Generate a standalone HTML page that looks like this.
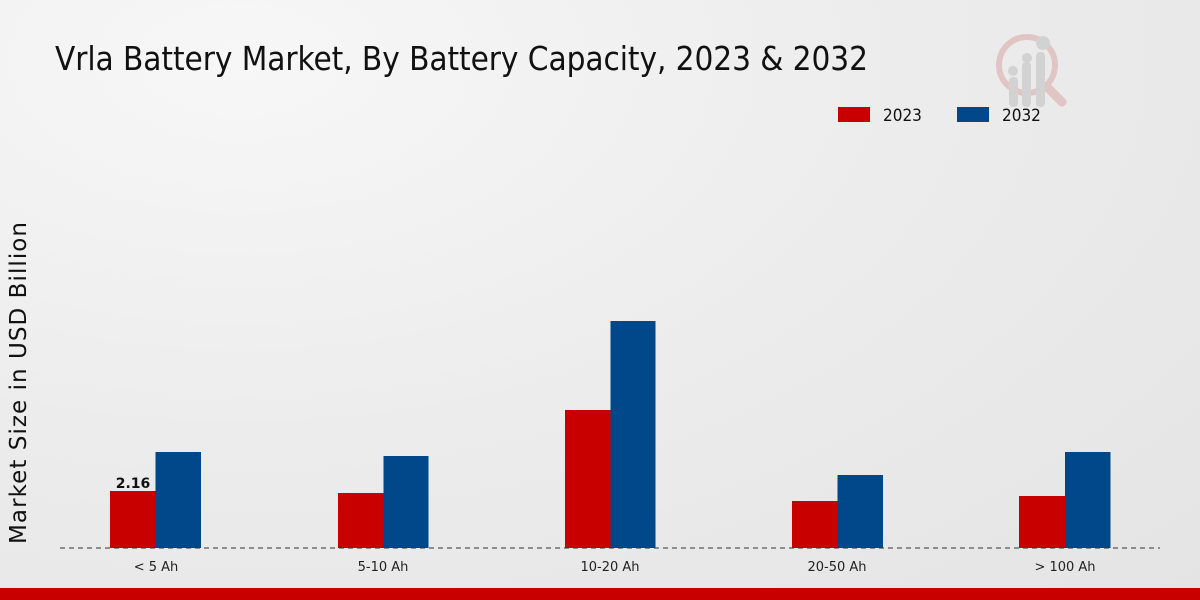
<!DOCTYPE html>
<html><head><meta charset="utf-8"><style>
html,body{margin:0;padding:0}
body{width:1200px;height:600px;overflow:hidden;background:radial-gradient(ellipse at 20% 10%,#f7f7f7 0%,#ececec 50%,#e4e4e4 100%);font-family:"DejaVu Sans","Liberation Sans",sans-serif;position:relative}
</style></head><body>
<svg width="1200" height="600" style="position:absolute;left:0;top:0">
<text x="55" y="70" font-family="DejaVu Sans Condensed, DejaVu Sans, sans-serif" font-stretch="condensed" font-size="33" fill="#111" textLength="813">Vrla Battery Market, By Battery Capacity, 2023 &amp; 2032</text>
<g opacity="0.5">
<circle cx="1027" cy="65" r="28" fill="none" stroke="#d9a0a0" stroke-width="6"/>
<line x1="1047" y1="87" x2="1062" y2="102" stroke="#d9a0a0" stroke-width="9" stroke-linecap="round"/>
<rect x="1009" y="77" width="9" height="30" rx="4" fill="#bbb"/>
<rect x="1022" y="62" width="9" height="45" rx="4" fill="#bbb"/>
<rect x="1036" y="52" width="9" height="55" rx="4" fill="#bbb"/>
<circle cx="1013" cy="71" r="5" fill="#bbb"/><circle cx="1027" cy="58" r="5" fill="#bbb"/><circle cx="1043" cy="43" r="7" fill="#bbb"/>
</g>
<rect x="838" y="107" width="32" height="15" fill="#c80000"/>
<text x="883" y="121" font-size="17" font-family="DejaVu Sans Condensed, DejaVu Sans, sans-serif" fill="#111">2023</text>
<rect x="957" y="107" width="32" height="15" fill="#00488a"/>
<text x="1002" y="121" font-size="17" font-family="DejaVu Sans Condensed, DejaVu Sans, sans-serif" fill="#111">2032</text>
<text transform="translate(26,383) rotate(-90)" text-anchor="middle" font-size="23" fill="#111" textLength="322">Market Size in USD Billion</text>
<g>
<rect x="110" y="491" width="45.5" height="57" fill="#c80000"/><rect x="155.5" y="452" width="45.5" height="96" fill="#00488a"/>
<rect x="338" y="493" width="45.5" height="55" fill="#c80000"/><rect x="383.5" y="456" width="45" height="92" fill="#00488a"/>
<rect x="565" y="410" width="45.5" height="138" fill="#c80000"/><rect x="610.5" y="321" width="45" height="227" fill="#00488a"/>
<rect x="792" y="501" width="45.5" height="47" fill="#c80000"/><rect x="837.5" y="475" width="45.5" height="73" fill="#00488a"/>
<rect x="1019" y="496" width="46" height="52" fill="#c80000"/><rect x="1065" y="452" width="45.5" height="96" fill="#00488a"/>
</g>
<text x="133" y="488" text-anchor="middle" font-size="14" font-weight="bold" fill="#111">2.16</text>
<line x1="60" y1="548" x2="1160" y2="548" stroke="#333" stroke-width="1" stroke-dasharray="5,4"/>
<g font-size="13" fill="#222" text-anchor="middle">
<text x="156" y="571">&lt; 5 Ah</text><text x="383" y="571">5-10 Ah</text><text x="610" y="571">10-20 Ah</text><text x="837" y="571">20-50 Ah</text><text x="1065" y="571">&gt; 100 Ah</text>
</g>
<rect x="0" y="588" width="1200" height="12" fill="#c80000"/>
</svg>
</body></html>
